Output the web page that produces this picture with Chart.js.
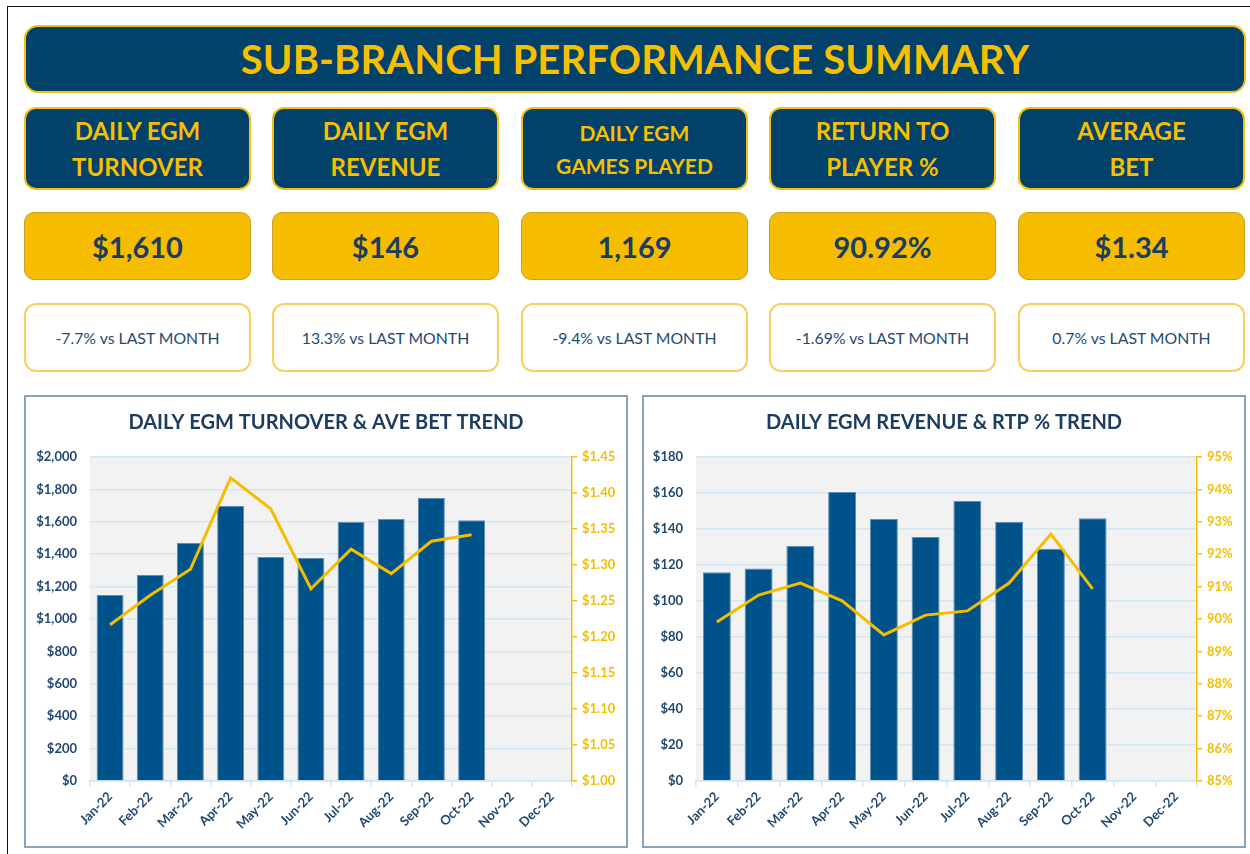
<!DOCTYPE html>
<html>
<head>
<meta charset="utf-8">
<script src="https://cdn.jsdelivr.net/npm/chart.js@4"></script>
<style>
  html, body { margin: 0; padding: 0; background: #ffffff; }
  body { width: 1250px; height: 854px; position: relative; overflow: hidden; font-family: Lato, "Open Sans", sans-serif; }
  .frame { position: absolute; left: 7px; top: 6px; width: 1260px; height: 860px; border-left: 1.5px solid #111; border-top: 1.5px solid #111; }
  .titlebar { position: absolute; left: 24px; top: 25px; width: 1222px; height: 68px; box-sizing: border-box;
    background: #01416a; border: 2px solid #f2c014; border-radius: 14px; color: #f6bf00; font-weight: 700;
    font-size: 40px; display: flex; align-items: center; justify-content: center; letter-spacing: 0.1px; }
  .card { position: absolute; box-sizing: border-box; display: flex; align-items: center; justify-content: center; text-align: center; }
  .head { top: 107px; height: 83px; width: 227px; background: #01416a; border: 2px solid #f2c014; border-radius: 12px;
    color: #f6bf00; font-weight: 700; font-size: 24px; line-height: 36px; }
  .head.small { font-size: 21px; line-height: 33px; }
  .val { top: 212px; height: 68px; width: 227px; background: #f5bc00; border: 1.5px solid #c9a02a; border-radius: 10px;
    color: #1b3d60; font-weight: 700; font-size: 29px; }
  .chg { top: 303px; height: 69px; width: 227px; background: #ffffff; border: 2px solid #f8d060; border-radius: 12px;
    color: #234a70; font-size: 15.8px; }
  .panel { position: absolute; top: 395px; height: 453px; width: 604px; box-sizing: border-box; border: 2px solid #8aa3bb; background: #fff; }
  .panel .box { position: absolute; left: 0; top: 0; width: 600px; height: 449px; }
</style>
</head>
<body>
<div class="frame"></div>
<div class="titlebar">SUB-BRANCH PERFORMANCE SUMMARY</div>
<div id="cards"></div>
<div class="panel" style="left:24px;"><div class="box"><canvas id="c1"></canvas></div></div>
<div class="panel" style="left:642px; width:604px;"><div class="box"><canvas id="c2"></canvas></div></div>
<script>
// ---- DATA ----
const months = ["Jan-22","Feb-22","Mar-22","Apr-22","May-22","Jun-22","Jul-22","Aug-22","Sep-22","Oct-22","Nov-22","Dec-22"];
const turnover = [1148, 1272, 1469, 1698, 1383, 1377, 1599, 1617, 1747, 1610, null, null];
const aveBet   = [1.217, 1.258, 1.294, 1.421, 1.378, 1.267, 1.322, 1.288, 1.333, 1.342, null, null];
const revenue  = [116, 118, 130.6, 160.5, 145.5, 135.6, 155.6, 144, 129, 146, null, null];
const rtp      = [89.91, 90.74, 91.11, 90.56, 89.51, 90.12, 90.25, 91.11, 92.62, 90.93, null, null];

const turnoverAxis = { min: 0, max: 2000, step: 200 };
const aveBetAxis   = { min: 1.00, max: 1.45, step: 0.05 };
const revenueAxis  = { min: 0, max: 180, step: 20 };
const rtpAxis      = { min: 85, max: 95, step: 1 };

const kpiTitles  = [["DAILY EGM","TURNOVER"],["DAILY EGM","REVENUE"],["DAILY EGM","GAMES PLAYED"],["RETURN TO","PLAYER %"],["AVERAGE","BET"]];
const kpiValues  = ["$1,610","$146","1,169","90.92%","$1.34"];
const kpiChanges = ["-7.7% vs LAST MONTH","13.3% vs LAST MONTH","-9.4% vs LAST MONTH","-1.69% vs LAST MONTH","0.7% vs LAST MONTH"];

const chartTitles = ["DAILY EGM TURNOVER & AVE BET TREND", "DAILY EGM REVENUE & RTP % TREND"];

// ---- KPI CARDS ----
const cardLefts = [24, 272, 521, 769, 1018];
const cards = document.getElementById('cards');
kpiTitles.forEach((t, i) => {
  const h = document.createElement('div');
  h.className = 'card head' + (i === 2 ? ' small' : '');
  h.style.left = cardLefts[i] + 'px';
  h.innerHTML = t.join('<br>');
  cards.appendChild(h);
  const v = document.createElement('div');
  v.className = 'card val';
  v.style.left = cardLefts[i] + 'px';
  v.textContent = kpiValues[i];
  cards.appendChild(v);
  const c = document.createElement('div');
  c.className = 'card chg';
  c.style.left = cardLefts[i] + 'px';
  c.textContent = kpiChanges[i];
  cards.appendChild(c);
});

// ---- CHARTS ----
const NAVY = '#1f4770';
const GOLD = '#f5bd00';
const BAR = '#00528a';
const GRID = '#d3e6f4';

const plotBg = {
  id: 'plotBg',
  beforeDraw(chart) {
    const a = chart.chartArea, ctx = chart.ctx;
    ctx.save();
    ctx.fillStyle = '#f2f2f2';
    ctx.fillRect(a.left, a.top, a.right - a.left, a.bottom - a.top);
    ctx.restore();
  }
};

function makeChart(id, title, barData, lineData, leftAx, rightAx, leftFmt, rightFmt, leftW, rightW) {
  return new Chart(document.getElementById(id), {
    type: 'bar',
    data: {
      labels: months,
      datasets: [
        { type: 'line', data: lineData, yAxisID: 'y1', borderColor: GOLD, borderWidth: 3, pointRadius: 0,
          tension: 0, fill: false, order: 0, spanGaps: false },
        { type: 'bar', data: barData, yAxisID: 'y', backgroundColor: BAR, borderColor: '#5f8db3', borderWidth: 1,
          categoryPercentage: 0.67, barPercentage: 1, order: 1 }
      ]
    },
    options: {
      responsive: true,
      maintainAspectRatio: false,
      animation: false,
      layout: { padding: 0 },
      plugins: {
        legend: { display: false },
        tooltip: { enabled: false },
        title: { display: true, text: title, color: '#1c3d60', font: { family: 'Lato', size: 20, weight: 'bold' },
          padding: { top: 14, bottom: 22 } }
      },
      scales: {
        x: {
          offset: true,
          grid: { offset: true, drawOnChartArea: false, drawTicks: true, tickLength: 6, color: GRID, lineWidth: 1.5 },
          border: { display: true, color: GRID, width: 1.5 },
          ticks: { color: NAVY, font: { family: 'Lato', size: 13, weight: 'bold' }, minRotation: 45, maxRotation: 45, autoSkip: false, padding: 2 },
          afterFit(s) { s.height = 65; }
        },
        y: {
          position: 'left',
          min: leftAx.min, max: leftAx.max,
          grid: { color: GRID, lineWidth: 1.5, drawTicks: false },
          border: { display: false },
          ticks: { stepSize: leftAx.step, color: NAVY, font: { family: 'Lato', size: 13, weight: 'bold' }, padding: 13, callback: leftFmt },
          afterFit(s) { s.width = leftW; }
        },
        y1: {
          position: 'right',
          min: rightAx.min, max: rightAx.max,
          grid: { drawOnChartArea: false, drawTicks: true, tickLength: 5, color: GOLD, lineWidth: 1.5 },
          border: { display: true, color: GOLD, width: 1.5 },
          ticks: { stepSize: rightAx.step, color: GOLD, font: { family: 'Lato', size: 13, weight: 'bold' }, padding: 5, callback: rightFmt },
          afterFit(s) { s.width = rightW; }
        }
      }
    },
    plugins: [plotBg]
  });
}

makeChart('c1', chartTitles[0], turnover, aveBet, turnoverAxis, aveBetAxis,
  v => '$' + Number(v).toLocaleString('en-US'),
  v => '$' + Number(v).toFixed(2), 64, 54);

makeChart('c2', chartTitles[1], revenue, rtp, revenueAxis, rtpAxis,
  v => '$' + Math.round(v),
  v => Math.round(v) + '%', 52, 47);
</script>
</body>
</html>
